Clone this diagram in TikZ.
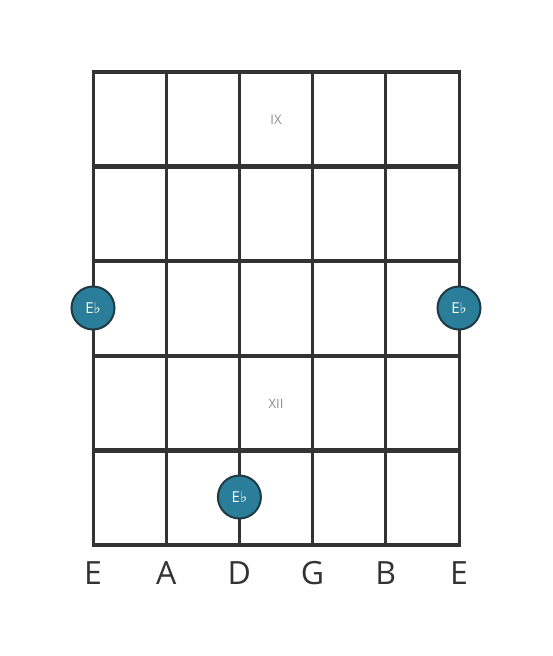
\documentclass[tikz,border=0pt]{standalone}
\usepackage{fontspec}
\setmainfont{Open Sans}
\newfontfamily\symfont{DejaVu Sans}
\definecolor{FBLine}{HTML}{333333}
\definecolor{FBTeal}{HTML}{2B7E9A}
\definecolor{FBRing}{HTML}{1F3A45}
\definecolor{FBGray}{HTML}{8C8C8C}
\begin{document}
\begin{tikzpicture}[
    x=1pt, y=-1pt,
    % 弦与品丝
    gstring/.style={FBLine, line width=3pt},
    gfret/.style={FBLine, line width=4.3pt},
    % 音符圆点
    note/.style={circle, fill=FBTeal, draw=FBRing, line width=2pt,
        minimum size=43pt, inner sep=0pt, text=white,
        font=\fontsize{15}{15}\selectfont},
    strlabel/.style={FBLine, font=\fontsize{32}{32}\selectfont},
    fretnum/.style={FBGray, font=\fontsize{13}{13}\selectfont}
]
    \useasboundingbox (0,0) rectangle (553,656);

    \def\sx{73.2}
    \def\fy{94.6}

    % --- 1. 弦 ---
    \foreach \i in {0,...,5} {
        \coordinate (top\i) at (93+\sx*\i, 72);
        \coordinate (bot\i) at (93+\sx*\i, 545);
        \draw[gstring] (top\i) -- (bot\i);
    }

    % --- 2. 品丝 ---
    \foreach \j in {0,...,5} {
        \draw[gfret] (91.5, 72+\fy*\j) -- (460.5, 72+\fy*\j);
    }

    % --- 3. 品位标记 ---
    \node[fretnum] (fIX) at (93+2.5*\sx, 120) {IX};
    \node[fretnum] (fXII) at (93+2.5*\sx, 404) {XII};

    % --- 4. 音符 ---
    \node[note] (ebLow) at (93, 308) {E{\symfont ♭}};
    \node[note] (ebHigh) at (93+5*\sx, 308) {E{\symfont ♭}};
    \node[note] (ebD) at (93+2*\sx, 497) {E{\symfont ♭}};

    % --- 5. 空弦音名 ---
    \foreach \i/\nm in {0/E, 1/A, 2/D, 3/G, 4/B, 5/E} {
        \node[strlabel] (s\i) at (93+\sx*\i, 573) {\nm};
    }

\end{tikzpicture}
\end{document}
